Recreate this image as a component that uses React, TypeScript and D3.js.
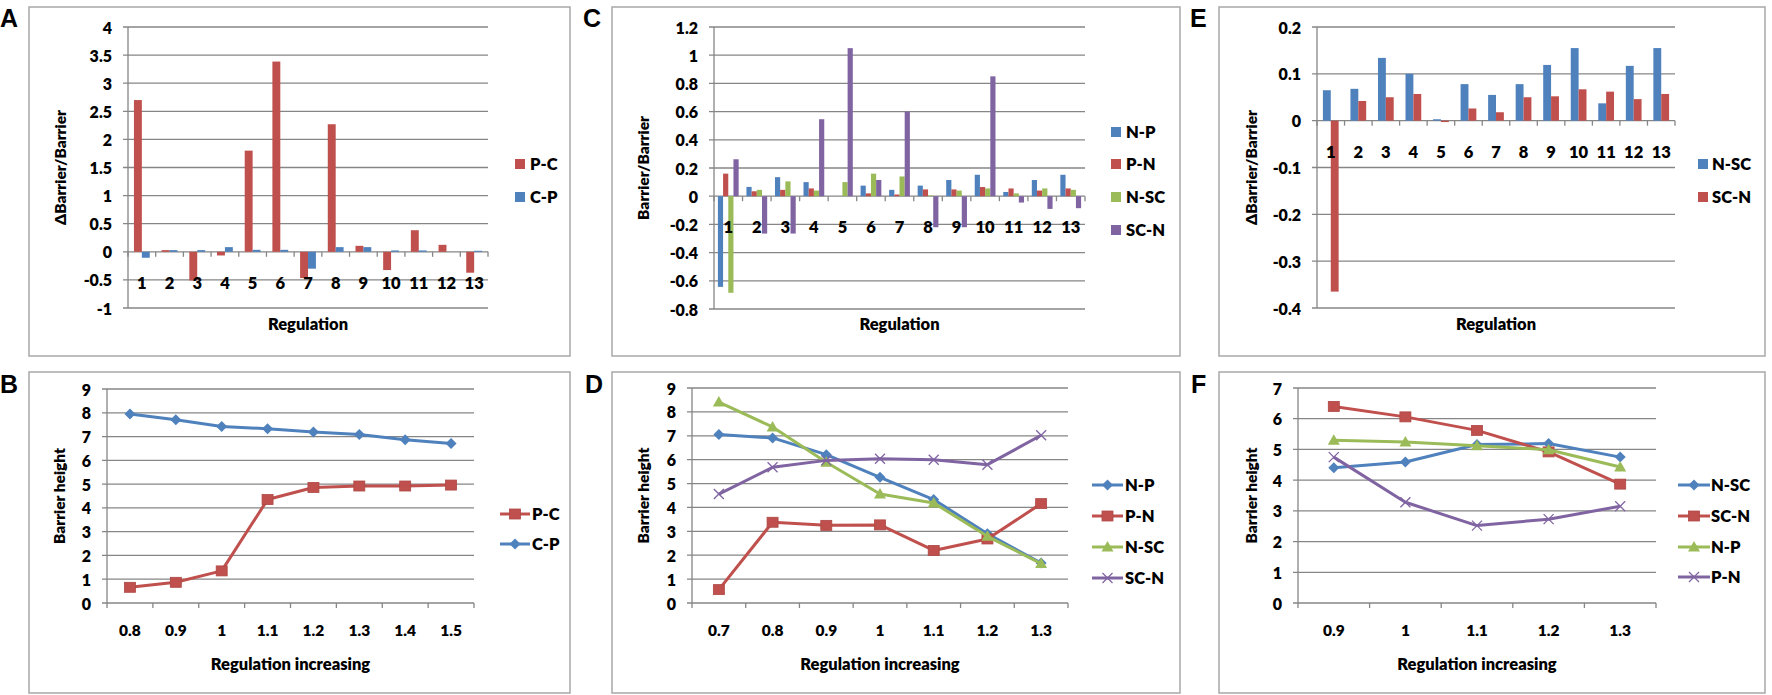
import React from "react";
import * as d3 from "d3";

// ---------- data ----------
const regulationCats = ["1", "2", "3", "4", "5", "6", "7", "8", "9", "10", "11", "12", "13"];

// Panel A
const aTicks = [4, 3.5, 3, 2.5, 2, 1.5, 1, 0.5, 0, -0.5, -1];
const aPC = [2.7, 0.03, -0.51, -0.065, 1.8, 3.385, -0.467, 2.27, 0.106, -0.325, 0.384, 0.124, -0.372];
const aCP = [-0.106, 0.03, 0.03, 0.083, 0.035, 0.035, -0.3, 0.083, 0.083, 0.024, 0.024, 0.0, 0.018];

// Panel C
const cTicks = [1.2, 1, 0.8, 0.6, 0.4, 0.2, 0, -0.2, -0.4, -0.6, -0.8];
const cNP = [-0.643, 0.066, 0.135, 0.1, 0.0, 0.075, 0.045, 0.075, 0.115, 0.152, 0.03, 0.115, 0.152];
const cPN = [0.16, 0.035, 0.045, 0.055, 0.0, 0.02, 0.012, 0.048, 0.048, 0.065, 0.055, 0.04, 0.055];
const cNSC = [-0.685, 0.045, 0.105, 0.04, 0.1, 0.16, 0.14, 0.005, 0.04, 0.055, 0.02, 0.055, 0.045];
const cSCN = [0.262, -0.265, -0.265, 0.546, 1.05, 0.115, 0.6, -0.22, -0.22, 0.85, -0.045, -0.09, -0.085];

// Panel E
const eTicks = [0.2, 0.1, 0, -0.1, -0.2, -0.3, -0.4];
const eNSC = [0.065, 0.068, 0.134, 0.1, 0.003, 0.078, 0.055, 0.078, 0.119, 0.155, 0.037, 0.117, 0.155];
const eSCN = [-0.365, 0.042, 0.05, 0.057, -0.003, 0.026, 0.018, 0.05, 0.052, 0.067, 0.062, 0.046, 0.057];

// Panel B
const bCats = ["0.8", "0.9", "1", "1.1", "1.2", "1.3", "1.4", "1.5"];
const bTicks = [9, 8, 7, 6, 5, 4, 3, 2, 1, 0];
const bPC = [0.66, 0.87, 1.35, 4.35, 4.86, 4.92, 4.92, 4.96];
const bCP = [7.95, 7.71, 7.42, 7.33, 7.19, 7.09, 6.87, 6.71];

// Panel D
const dCats = ["0.7", "0.8", "0.9", "1", "1.1", "1.2", "1.3"];
const dTicks = [9, 8, 7, 6, 5, 4, 3, 2, 1, 0];
const dNP = [7.05, 6.91, 6.21, 5.26, 4.33, 2.9, 1.67];
const dPN = [0.56, 3.38, 3.25, 3.27, 2.2, 2.68, 4.16];
const dNSC = [8.41, 7.37, 5.89, 4.56, 4.19, 2.79, 1.65];
const dSCN = [4.56, 5.68, 5.97, 6.04, 6.0, 5.79, 7.02];

// Panel F
const fCats = ["0.9", "1", "1.1", "1.2", "1.3"];
const fTicks = [7, 6, 5, 4, 3, 2, 1, 0];
const fNSC = [4.4, 4.59, 5.16, 5.19, 4.75];
const fSCN = [6.4, 6.06, 5.62, 4.92, 3.87];
const fNP = [5.3, 5.24, 5.12, 4.99, 4.43];
const fPN = [4.75, 3.28, 2.52, 2.73, 3.15];

// ---------- styles ----------
const BLUE = "#4F81BD";
const RED = "#C0504D";
const GREEN = "#9BBB59";
const PURPLE = "#8064A2";
const GRID = "#868686";
const BORDER = "#a8a8a8";
const FONT = "Lato, 'Open Sans', sans-serif";
const WEIGHT = 800;
const LETTER_FONT = "'Liberation Sans', Arial, sans-serif";

type Series = { name: string; color: string; values: number[]; marker?: string };
type Rect = { x: number; y: number; w: number; h: number };
type Plot = { l: number; t: number; r: number; b: number };

function Marker({ kind, x, y, color }: { kind: string; x: number; y: number; color: string }) {
  if (kind === "diamond") {
    return <path d={`M${x},${y - 5.5}L${x + 5.5},${y}L${x},${y + 5.5}L${x - 5.5},${y}Z`} fill={color} />;
  }
  if (kind === "square") {
    return <rect x={x - 5.5} y={y - 5} width={11} height={10} fill={color} stroke={d3.color(color)!.darker(0.3).toString()} strokeWidth={0.8} />;
  }
  if (kind === "triangle") {
    return <path d={`M${x},${y - 6}L${x + 6},${y + 4.5}L${x - 6},${y + 4.5}Z`} fill={color} />;
  }
  return (
    <g stroke={color} strokeWidth={1.3}>
      <line x1={x - 5} y1={y - 5} x2={x + 5} y2={y + 5} />
      <line x1={x - 5} y1={y + 5} x2={x + 5} y2={y - 5} />
    </g>
  );
}

function Frame({ box, letter, letterX, letterY }: { box: Rect; letter: string; letterX: number; letterY: number }) {
  return (
    <g>
      <rect x={box.x} y={box.y} width={box.w} height={box.h} fill="white" stroke={BORDER} strokeWidth={1.5} />
      <text x={letterX} y={letterY} fontFamily={LETTER_FONT} fontWeight={700} fontSize={25} fill="#000">
        {letter}
      </text>
    </g>
  );
}

function YAxis({ plot, y, ticks, title, titleX }: { plot: Plot; y: d3.ScaleLinear<number, number>; ticks: number[]; title: string; titleX: number }) {
  const cy = (plot.t + plot.b) / 2;
  return (
    <g>
      {ticks.map((v) => (
        <g key={v}>
          <line x1={plot.l - 5} x2={plot.r} y1={y(v)} y2={y(v)} stroke={GRID} strokeWidth={1.3} />
          <text x={plot.l - 16} y={y(v)} textAnchor="end" dominantBaseline="central" fontFamily={FONT} fontWeight={WEIGHT} fontSize={16} fill="#000">
            {String(v)}
          </text>
        </g>
      ))}
      <line x1={plot.l} x2={plot.l} y1={plot.t} y2={plot.b} stroke={GRID} strokeWidth={1.3} />
      <text
        x={titleX}
        y={cy}
        transform={`rotate(-90, ${titleX}, ${cy})`}
        textAnchor="middle"
        dominantBaseline="central"
        fontFamily={FONT}
        fontWeight={WEIGHT}
        fontSize={15.5}
        fill="#000"
      >
        {title}
      </text>
    </g>
  );
}

function BarPanel(props: {
  box: Rect; plot: Plot; letter: string; letterX: number; domain: [number, number]; ticks: number[];
  cats: string[]; series: Series[]; swatchX: number; textX: number; legendYs: number[]; yTitle: string; yTitleX: number;
}) {
  const { box, plot, domain, ticks, cats, series } = props;
  const y = d3.scaleLinear().domain(domain).range([plot.b, plot.t]);
  const x = d3.scaleBand().domain(cats).range([plot.l, plot.r]).paddingInner(0).paddingOuter(0);
  const inner = d3.scaleBand().domain(series.map((s) => s.name)).range([0, x.bandwidth()]).paddingInner(0).paddingOuter(0.75);
  const y0 = y(0);
  const bounds = cats.map((c) => x(c)!).concat([plot.r]);
  return (
    <g>
      <Frame box={box} letter={props.letter} letterX={props.letterX} letterY={box.y + 20} />
      <YAxis plot={plot} y={y} ticks={ticks} title={props.yTitle} titleX={props.yTitleX} />
      {bounds.map((bx, i) => (
        <line key={i} x1={bx} x2={bx} y1={y0} y2={y0 + 5} stroke={GRID} strokeWidth={1.3} />
      ))}
      {series.map((s) => (
        <g key={s.name} fill={s.color}>
          {s.values.map((v, i) => (
            <rect key={i} x={x(cats[i])! + inner(s.name)!} y={Math.min(y(v), y0)} width={inner.bandwidth()} height={Math.abs(y(v) - y0)} />
          ))}
        </g>
      ))}
      {cats.map((c) => (
        <text key={c} x={x(c)! + x.bandwidth() / 2} y={y0 + 31} textAnchor="middle" dominantBaseline="central" fontFamily={FONT} fontWeight={WEIGHT} fontSize={16.5} fill="#000">
          {c}
        </text>
      ))}
      <text x={(plot.l + plot.r) / 2} y={324} textAnchor="middle" dominantBaseline="central" fontFamily={FONT} fontWeight={WEIGHT} fontSize={16.5} fill="#000">
        Regulation
      </text>
      {series.map((s, i) => (
        <g key={s.name}>
          <rect x={props.swatchX} y={props.legendYs[i] - 5} width={10} height={10} fill={s.color} />
          <text x={props.textX} y={props.legendYs[i]} dominantBaseline="central" fontFamily={FONT} fontWeight={WEIGHT} fontSize={16.5} fill="#000">
            {s.name}
          </text>
        </g>
      ))}
    </g>
  );
}

function LinePanel(props: {
  box: Rect; plot: Plot; letter: string; letterX: number; domain: [number, number]; ticks: number[];
  cats: string[]; series: Series[]; lineX1: number; lineX2: number; textX: number; legendYs: number[]; yTitleX: number;
}) {
  const { box, plot, domain, ticks, cats, series } = props;
  const y = d3.scaleLinear().domain(domain).range([plot.b, plot.t]);
  const x = d3.scaleBand().domain(cats).range([plot.l, plot.r]);
  const cx = (c: string) => x(c)! + x.bandwidth() / 2;
  const bounds = cats.map((c) => x(c)!).concat([plot.r]);
  const line = d3.line<number>().x((_, i) => cx(cats[i])).y((v) => y(v));
  return (
    <g>
      <Frame box={box} letter={props.letter} letterX={props.letterX} letterY={box.y + 21} />
      <YAxis plot={plot} y={y} ticks={ticks} title="Barrier height" titleX={props.yTitleX} />
      {bounds.map((bx, i) => (
        <line key={i} x1={bx} x2={bx} y1={plot.b} y2={plot.b + 5} stroke={GRID} strokeWidth={1.3} />
      ))}
      {series.map((s) => (
        <g key={s.name}>
          <path d={line(s.values)!} fill="none" stroke={s.color} strokeWidth={3} strokeLinejoin="round" />
          {s.values.map((v, i) => (
            <Marker key={i} kind={s.marker!} x={cx(cats[i])} y={y(v)} color={s.color} />
          ))}
        </g>
      ))}
      {cats.map((c) => (
        <text key={c} x={cx(c)} y={630} textAnchor="middle" dominantBaseline="central" fontFamily={FONT} fontWeight={WEIGHT} fontSize={15.5} fill="#000">
          {c}
        </text>
      ))}
      <text x={(plot.l + plot.r) / 2} y={664} textAnchor="middle" dominantBaseline="central" fontFamily={FONT} fontWeight={WEIGHT} fontSize={16.5} fill="#000">
        Regulation increasing
      </text>
      {series.map((s, i) => (
        <g key={s.name}>
          <line x1={props.lineX1} x2={props.lineX2} y1={props.legendYs[i]} y2={props.legendYs[i]} stroke={s.color} strokeWidth={3} />
          <Marker kind={s.marker!} x={(props.lineX1 + props.lineX2) / 2} y={props.legendYs[i]} color={s.color} />
          <text x={props.textX} y={props.legendYs[i]} dominantBaseline="central" fontFamily={FONT} fontWeight={WEIGHT} fontSize={16.5} fill="#000">
            {s.name}
          </text>
        </g>
      ))}
    </g>
  );
}

export default function App() {
  return (
    <svg width={1772} height={695} style={{ position: "absolute", left: 0, top: 0, background: "white" }}>
      <rect x={0} y={0} width={1772} height={695} fill="white" />
      <BarPanel
        box={{ x: 29, y: 7, w: 541, h: 349 }}
        plot={{ l: 128, t: 27, r: 488, b: 308 }}
        letter="A" letterX={0}
        domain={[-1, 4]} ticks={aTicks} cats={regulationCats}
        series={[{ name: "P-C", color: RED, values: aPC }, { name: "C-P", color: BLUE, values: aCP }]}
        swatchX={515} textX={530} legendYs={[164, 197]}
        yTitle="ΔBarrier/Barrier" yTitleX={60}
      />
      <BarPanel
        box={{ x: 612, y: 7, w: 568, h: 349 }}
        plot={{ l: 714, t: 27, r: 1085, b: 309 }}
        letter="C" letterX={583}
        domain={[-0.8, 1.2]} ticks={cTicks} cats={regulationCats}
        series={[
          { name: "N-P", color: BLUE, values: cNP },
          { name: "P-N", color: RED, values: cPN },
          { name: "N-SC", color: GREEN, values: cNSC },
          { name: "SC-N", color: PURPLE, values: cSCN },
        ]}
        swatchX={1111} textX={1126} legendYs={[132, 164, 197, 230]}
        yTitle="Barrier/Barrier" yTitleX={643}
      />
      <BarPanel
        box={{ x: 1219, y: 7, w: 546, h: 349 }}
        plot={{ l: 1317, t: 27, r: 1675, b: 308 }}
        letter="E" letterX={1190}
        domain={[-0.4, 0.2]} ticks={eTicks} cats={regulationCats}
        series={[{ name: "N-SC", color: BLUE, values: eNSC }, { name: "SC-N", color: RED, values: eSCN }]}
        swatchX={1698} textX={1712} legendYs={[164, 197]}
        yTitle="ΔBarrier/Barrier" yTitleX={1251}
      />
      <LinePanel
        box={{ x: 29, y: 372, w: 541, h: 321 }}
        plot={{ l: 107, t: 389, r: 474, b: 603 }}
        letter="B" letterX={0}
        domain={[0, 9]} ticks={bTicks} cats={bCats}
        series={[
          { name: "P-C", color: RED, values: bPC, marker: "square" },
          { name: "C-P", color: BLUE, values: bCP, marker: "diamond" },
        ]}
        lineX1={500} lineX2={530} textX={532} legendYs={[514, 544]}
        yTitleX={59}
      />
      <LinePanel
        box={{ x: 612, y: 372, w: 568, h: 321 }}
        plot={{ l: 692, t: 388, r: 1068, b: 603 }}
        letter="D" letterX={585}
        domain={[0, 9]} ticks={dTicks} cats={dCats}
        series={[
          { name: "N-P", color: BLUE, values: dNP, marker: "diamond" },
          { name: "P-N", color: RED, values: dPN, marker: "square" },
          { name: "N-SC", color: GREEN, values: dNSC, marker: "triangle" },
          { name: "SC-N", color: PURPLE, values: dSCN, marker: "x" },
        ]}
        lineX1={1092} lineX2={1123} textX={1125} legendYs={[485, 516, 547, 578]}
        yTitleX={643}
      />
      <LinePanel
        box={{ x: 1219, y: 372, w: 546, h: 321 }}
        plot={{ l: 1298, t: 388, r: 1656, b: 603 }}
        letter="F" letterX={1191}
        domain={[0, 7]} ticks={fTicks} cats={fCats}
        series={[
          { name: "N-SC", color: BLUE, values: fNSC, marker: "diamond" },
          { name: "SC-N", color: RED, values: fSCN, marker: "square" },
          { name: "N-P", color: GREEN, values: fNP, marker: "triangle" },
          { name: "P-N", color: PURPLE, values: fPN, marker: "x" },
        ]}
        lineX1={1678} lineX2={1710} textX={1711} legendYs={[485, 516, 547, 577]}
        yTitleX={1251}
      />
    </svg>
  );
}
